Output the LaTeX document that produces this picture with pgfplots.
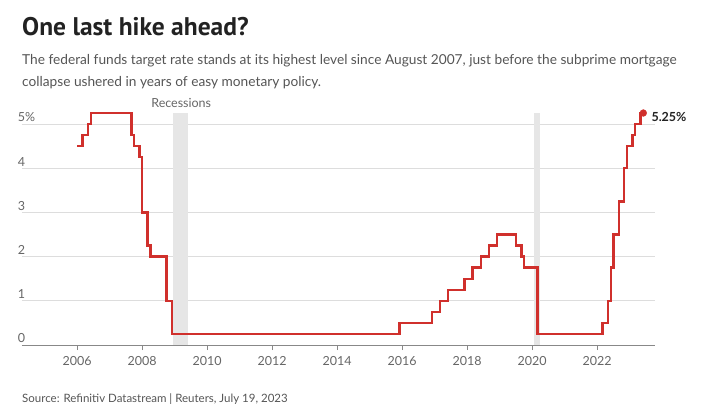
\documentclass[border=0pt]{standalone}
\usepackage{pgfplots}
\pgfplotsset{compat=1.18}
\usepackage{fontspec}
\setmainfont{Lato}
\newfontfamily\titlefont{PT Sans}
\definecolor{fedred}{HTML}{D0302C}
\definecolor{gridgray}{HTML}{DDDDDD}
\definecolor{recgray}{HTML}{E6E6E6}
\definecolor{axisgray}{HTML}{888888}
\definecolor{labgray}{HTML}{666666}
\definecolor{subgray}{HTML}{555555}
\definecolor{titlecol}{HTML}{222222}
\begin{document}
\begin{tikzpicture}
\path[use as bounding box] (0bp,0bp) rectangle (717bp,-416bp);
\node[anchor=base west, inner sep=0pt, text=titlecol] at (22bp,-35bp) {\fontsize{25.5bp}{30bp}\selectfont\titlefont\bfseries One last hike ahead?};
\node[anchor=base west, inner sep=0pt, text=subgray] at (22bp,-64bp) {\fontsize{13.7bp}{17bp}\selectfont The federal funds target rate stands at its highest level since August 2007, just before the subprime mortgage};
\node[anchor=base west, inner sep=0pt, text=subgray] at (22bp,-86bp) {\fontsize{13.7bp}{17bp}\selectfont collapse ushered in years of easy monetary policy.};
\node[anchor=base west, inner sep=0pt, text=subgray] at (22bp,-402bp) {\fontsize{11.5bp}{13bp}\selectfont Source: Refinitiv Datastream | Reuters, July 19, 2023};
\begin{axis}[
  at={(22bp,-345bp)}, anchor=south west,
  scale only axis, width=633bp, height=232bp,
  xmin=2004.3, xmax=2023.78, ymin=0, ymax=5.25,
  clip=false,
  axis lines*=left,
  x axis line style={draw=axisgray, line width=1bp, -},
  y axis line style={draw=none},
  xtick={2006,2008,...,2022},
  xticklabels={2006,2008,2010,2012,2014,2016,2018,2020,2022},
  ytick={0,1,2,3,4,5},
  yticklabels={0,1,2,3,4,5\%},
  tick align=outside,
  xtick style={draw=axisgray, line width=0.8bp, /pgfplots/major tick length=5bp},
  ytick style={draw=none, /pgfplots/major tick length=0bp},
  ymajorgrids,
  grid style={draw=gridgray, line width=0.8bp},
  xticklabel style={text=labgray, font=\fontsize{12.5bp}{14bp}\selectfont, yshift=-4bp},
  yticklabel style={text=labgray, font=\fontsize{12.5bp}{14bp}\selectfont, anchor=south west, inner sep=0pt, yshift=2bp},
  /pgf/number format/assume math mode=true,
]
\addplot[fill=recgray, draw=none] coordinates {(2008.94,0) (2008.94,5.25) (2009.41,5.25) (2009.41,0)} -- cycle;
\addplot[fill=recgray, draw=none] coordinates {(2020.05,0) (2020.05,5.25) (2020.25,5.25) (2020.25,0)} -- cycle;
\addplot[const plot, draw=fedred, line width=2.4bp, line join=miter] coordinates {
(2006.000,4.50) (2006.167,4.75) (2006.333,5.00) (2006.417,5.25)
(2007.667,4.75) (2007.750,4.50) (2007.917,4.25) (2008.000,3.00)
(2008.167,2.25) (2008.250,2.00) (2008.750,1.00) (2008.917,0.25)
(2015.917,0.50) (2016.917,0.75) (2017.167,1.00) (2017.417,1.25)
(2017.917,1.50) (2018.167,1.75) (2018.417,2.00) (2018.667,2.25)
(2018.917,2.50) (2019.500,2.25) (2019.667,2.00) (2019.750,1.75)
(2020.167,0.25) (2022.167,0.50) (2022.333,1.00) (2022.417,1.75)
(2022.500,2.50) (2022.667,3.25) (2022.833,4.00) (2022.917,4.50)
(2023.083,4.75) (2023.167,5.00) (2023.333,5.25) (2023.420,5.25)
};
\addplot[only marks, mark=*, mark size=3.4bp, color=fedred] coordinates {(2023.42,5.25)};
\node[anchor=west, inner sep=0pt, text=titlecol, font=\fontsize{12.5bp}{14bp}\selectfont\bfseries] at (axis cs:2023.42,5.25) [xshift=8bp, yshift=-4bp] {5.25\%};
\node[anchor=base, inner sep=0pt, text=labgray, font=\fontsize{12.5bp}{14bp}\selectfont] at (axis cs:2009.2,5.25) [yshift=6bp] {Recessions};
\end{axis}
\end{tikzpicture}
\end{document}
